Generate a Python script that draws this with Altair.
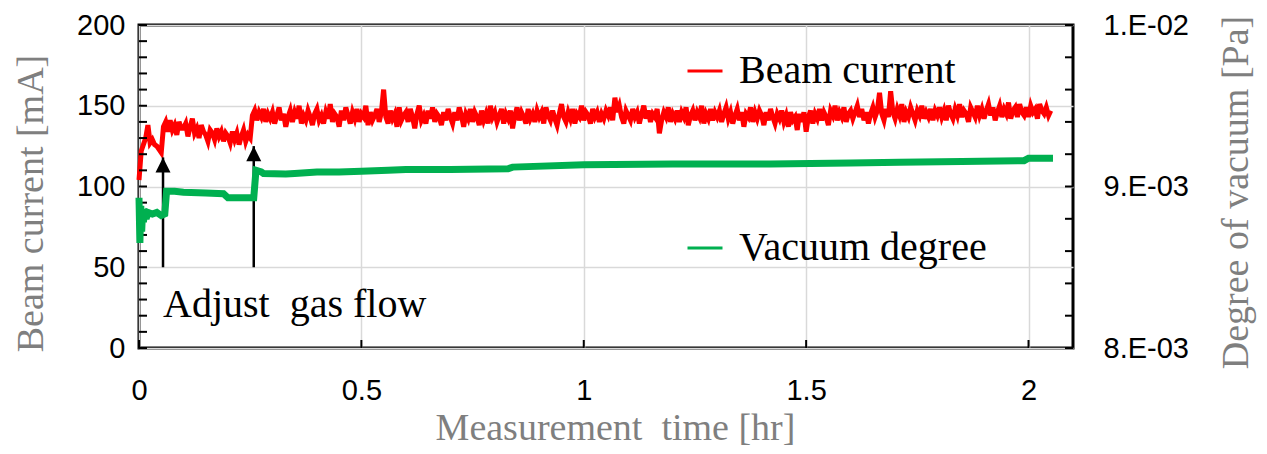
import altair as alt
import pandas as pd

# ---------------- data ----------------
SAMPLE_HR = 0.005  # sampling interval of the beam-current record [hr]
beam_current = [
    104, 122, 126, 130, 138, 127, 129, 126, 125, 123, 121, 137, 140, 134, 141, 135, 138, 132, 140, 136,
    136, 139, 131, 137, 142, 133, 136, 130, 138, 134, 132, 128, 135, 133, 129, 136, 131, 134, 128, 133,
    131, 127, 134, 129, 133, 126, 131, 135, 128, 132, 130, 144, 147, 141, 146, 143, 148, 140, 145, 142,
    146, 139, 144, 149, 141, 145, 137, 143, 147, 140, 146, 142, 150, 139, 144, 141, 147, 143, 138, 145,
    148, 141, 144, 139, 146, 142, 151, 140, 145, 143, 137, 147, 141, 149, 144, 139, 146, 142, 148, 140,
    145, 143, 150, 138, 146, 141, 144, 148, 140, 146, 160, 143, 139, 147, 142, 145, 137, 149, 141, 144,
    146, 140, 148, 143, 136, 145, 150, 141, 144, 139, 147, 142, 149, 140, 145, 143, 138, 146, 141, 148,
    143, 139, 146, 141, 149, 144, 137, 145, 142, 148, 140, 146, 143, 138, 147, 141, 145, 139, 150, 143,
    146, 140, 144, 148, 139, 145, 142, 147, 136, 144, 149, 141, 146, 143, 139, 148, 142, 145, 140, 147,
    143, 146, 139, 149, 144, 141, 147, 142, 138, 145, 151, 143, 140, 146, 142, 148, 139, 145, 143, 150,
    141, 146, 144, 139, 148, 143, 146, 140, 145, 142, 147, 144, 149, 141, 155, 146, 150, 143, 139, 147,
    144, 141, 148, 143, 146, 139, 145, 150, 142, 147, 140, 145, 143, 148, 133, 141, 146, 143, 149, 140,
    145, 142, 147, 140, 146, 143, 149, 138, 144, 147, 141, 146, 143, 150, 139, 145, 142, 148, 141, 146,
    143, 147, 140, 145, 149, 142, 146, 139, 144, 148, 141, 146, 137, 145, 143, 149, 140, 146, 142, 147,
    144, 138, 146, 141, 148, 143, 139, 145, 142, 147, 140, 144, 137, 146, 141, 143, 135, 145, 140, 146,
    134, 143, 147, 139, 145, 142, 148, 141, 146, 143, 138, 147, 144, 150, 141, 146, 143, 149, 140, 145,
    147, 142, 146, 150, 143, 148, 141, 146, 139, 145, 149, 143, 147, 158, 145, 141, 148, 143, 159, 146,
    142, 148, 144, 151, 140, 146, 143, 149, 145, 141, 147, 144, 150, 142, 146, 143, 148, 141, 147, 144,
    149, 143, 147, 141, 150, 145, 142, 148, 144, 151, 143, 147, 145, 140, 149, 146, 143, 150, 144, 148,
    142, 147, 151, 144, 149, 141, 146, 150, 143, 148, 145, 152, 142, 147, 149, 143, 151, 146, 144, 149,
    143, 150, 146, 148, 142, 151, 147, 145, 149, 144, 147,
]
beam_time = [round(i * SAMPLE_HR, 4) for i in range(len(beam_current))]

vac_time = [0.000, 0.002, 0.004, 0.006, 0.008, 0.010, 0.013, 0.016, 0.020, 0.030, 0.040, 0.050,
            0.058, 0.062, 0.080, 0.100, 0.150, 0.190, 0.200, 0.250, 0.258, 0.263, 0.275, 0.280,
            0.330, 0.350, 0.400, 0.450, 0.500, 0.560, 0.600, 0.700, 0.830, 0.840, 1.000, 1.200,
            1.420, 1.600, 1.710, 1.850, 1.990, 2.000, 2.055]
vac_pa = [8.93e-3, 8.65e-3, 8.88e-3, 8.72e-3, 8.85e-3, 8.78e-3, 8.86e-3, 8.80e-3, 8.84e-3, 8.83e-3,
          8.84e-3, 8.82e-3, 8.83e-3, 8.97e-3, 8.97e-3, 8.965e-3, 8.96e-3, 8.955e-3, 8.93e-3, 8.93e-3,
          8.93e-3, 9.10e-3, 9.09e-3, 9.08e-3, 9.077e-3, 9.08e-3, 9.09e-3, 9.09e-3, 9.095e-3, 9.10e-3,
          9.105e-3, 9.105e-3, 9.11e-3, 9.12e-3, 9.135e-3, 9.14e-3, 9.14e-3, 9.145e-3, 9.15e-3,
          9.155e-3, 9.16e-3, 9.175e-3, 9.175e-3]

arrow_time = [0.054, 0.258]
arrow_base = [50, 50]
arrow_tip = [118, 125]

annot_text = ["Adjust\u00a0 gas flow"]
annot_time = [0.054]
annot_ma = [19]

x_ticks = [0, 0.5, 1, 1.5, 2]
left_minor = list(range(0, 201, 10))
left_labels = [0, 50, 100, 150, 200]
right_minor = [0.008 + 0.0002 * i for i in range(11)]
right_values = [0.008, 0.009, 0.010]
right_labels = ["8.E-03", "9.E-03", "1.E-02"]

# ---------------- styling ----------------
W, H = 934, 323
SERIF = "Liberation Serif"
SANS = "Liberation Sans"
GRAY = "#7f7f7f"
RED = "#ff0000"
GREEN = "#00b050"

beam_df = pd.DataFrame({"t": beam_time, "ma": beam_current, "series": "Beam current"})
vac_df = pd.DataFrame({"t": vac_time, "pa": vac_pa, "series": "Vacuum degree"})
arrow_df = pd.DataFrame({"t": arrow_time, "base": arrow_base, "tip": arrow_tip})
annot_df = pd.DataFrame({"t": annot_time, "ma": annot_ma, "txt": annot_text})
lminor_df = pd.DataFrame({"v": left_minor})
rminor_df = pd.DataFrame({"v": right_minor})
xtick_df = pd.DataFrame({"t": x_ticks})

xscale = alt.Scale(domain=[0, 2.1], nice=False, zero=False)
lscale = alt.Scale(domain=[0, 200], nice=False)
rscale = alt.Scale(domain=[0.008, 0.010], nice=False, zero=False)

right_expr = " : ".join(
    [f"abs(datum.value - {v}) < 1e-6 ? '{s}'" for v, s in zip(right_values, right_labels)]
) + " : ''"

x_axis = alt.Axis(values=x_ticks, format="~g", ticks=False, domain=False, grid=True,
                  gridColor="#d9d9d9", gridWidth=1.5, labelFlush=False,
                  labelFont=SANS, labelFontSize=29, labelColor="black", labelPadding=28,
                  labelBaseline="top",
                  title="Measurement\u00a0 time [hr]", titleFont=SERIF, titleFontSize=38,
                  titleFontWeight="normal", titleColor=GRAY, titleX=476, titleY=80,
                  titleBaseline="middle", titleAnchor="middle")

left_axis = alt.Axis(values=left_labels, ticks=False, domain=False, grid=True,
                     gridColor="#d9d9d9", gridWidth=1.5,
                     labelFont=SANS, labelFontSize=29, labelColor="black", labelPadding=14,
                     title="Beam current [mA]", titleFont=SERIF, titleFontSize=38,
                     titleFontWeight="normal", titleColor=GRAY, titleAngle=270,
                     titleX=-108, titleY=178, titleBaseline="middle", titleAnchor="middle")

right_axis = alt.Axis(values=right_values, labelExpr=right_expr, ticks=False, domain=False,
                      grid=False, orient="right",
                      labelFont=SANS, labelFontSize=29, labelColor="black", labelPadding=30,
                      title="Degree of vacuum [Pa]", titleFont=SERIF, titleFontSize=38,
                      titleFontWeight="normal", titleColor=GRAY, titleAngle=270,
                      titleX=163, titleY=167, titleBaseline="middle", titleAnchor="middle")

X = alt.X("t:Q", scale=xscale, axis=x_axis)


def legend(y):
    return alt.Legend(orient="none", legendX=546, legendY=y, title=None, padding=0,
                      symbolType="stroke", symbolSize=1225, symbolStrokeWidth=3,
                      labelFont=SERIF, labelFontSize=40, labelColor="black",
                      labelOffset=14, labelLimit=500)


red_line = alt.Chart(beam_df).mark_line(strokeWidth=5, strokeJoin="miter").encode(
    x=X,
    y=alt.Y("ma:Q", scale=lscale, axis=left_axis),
    color=alt.Color("series:N", scale=alt.Scale(domain=["Beam current"], range=[RED]),
                    legend=legend(26)),
)

left_ticks = alt.Chart(lminor_df).mark_rule(color="black", strokeWidth=2).encode(
    y=alt.Y("v:Q", scale=lscale, axis=left_axis),
    x=alt.value(0), x2=alt.value(8),
)

bottom_ticks = alt.Chart(xtick_df).mark_rule(color="black", strokeWidth=2).encode(
    x=X,
    y=alt.value(H - 8), y2=alt.value(H),
)

arrow_shaft = alt.Chart(arrow_df).mark_rule(color="black", strokeWidth=2.5).encode(
    x=X,
    y=alt.Y("base:Q", scale=lscale, axis=left_axis),
    y2="tip:Q",
)

arrow_head = alt.Chart(arrow_df).mark_point(
    shape="M0,0L1,2L-1,2Z", filled=True, color="black", opacity=1, size=225, strokeWidth=0
).encode(
    x=X,
    y=alt.Y("tip:Q", scale=lscale, axis=left_axis),
)

annot = alt.Chart(annot_df).mark_text(
    font=SERIF, fontSize=40, color="black", align="left", baseline="alphabetic"
).encode(
    x=X,
    y=alt.Y("ma:Q", scale=lscale, axis=left_axis),
    text="txt:N",
)

left_group = alt.layer(red_line, left_ticks, bottom_ticks, arrow_shaft, arrow_head, annot)

green_line = alt.Chart(vac_df).mark_line(strokeWidth=7, strokeJoin="miter").encode(
    x=X,
    y=alt.Y("pa:Q", scale=rscale, axis=right_axis),
    color=alt.Color("series:N", scale=alt.Scale(domain=["Vacuum degree"], range=[GREEN]),
                    legend=legend(203)),
)

right_ticks = alt.Chart(rminor_df).mark_rule(color="black", strokeWidth=2).encode(
    y=alt.Y("v:Q", scale=rscale, axis=right_axis),
    x=alt.value(W - 8), x2=alt.value(W),
)

right_group = alt.layer(green_line, right_ticks)

chart = alt.layer(left_group, right_group).resolve_scale(
    y="independent", color="independent"
).properties(
    width=W, height=H,
    autosize=alt.AutoSizeParams(type="none"),
    padding={"left": 131, "top": 17, "right": 186, "bottom": 98},
    background="white",
).configure_view(stroke="black", strokeWidth=3)

chart.save("out.html", embed_options={"renderer": "svg", "actions": False})
